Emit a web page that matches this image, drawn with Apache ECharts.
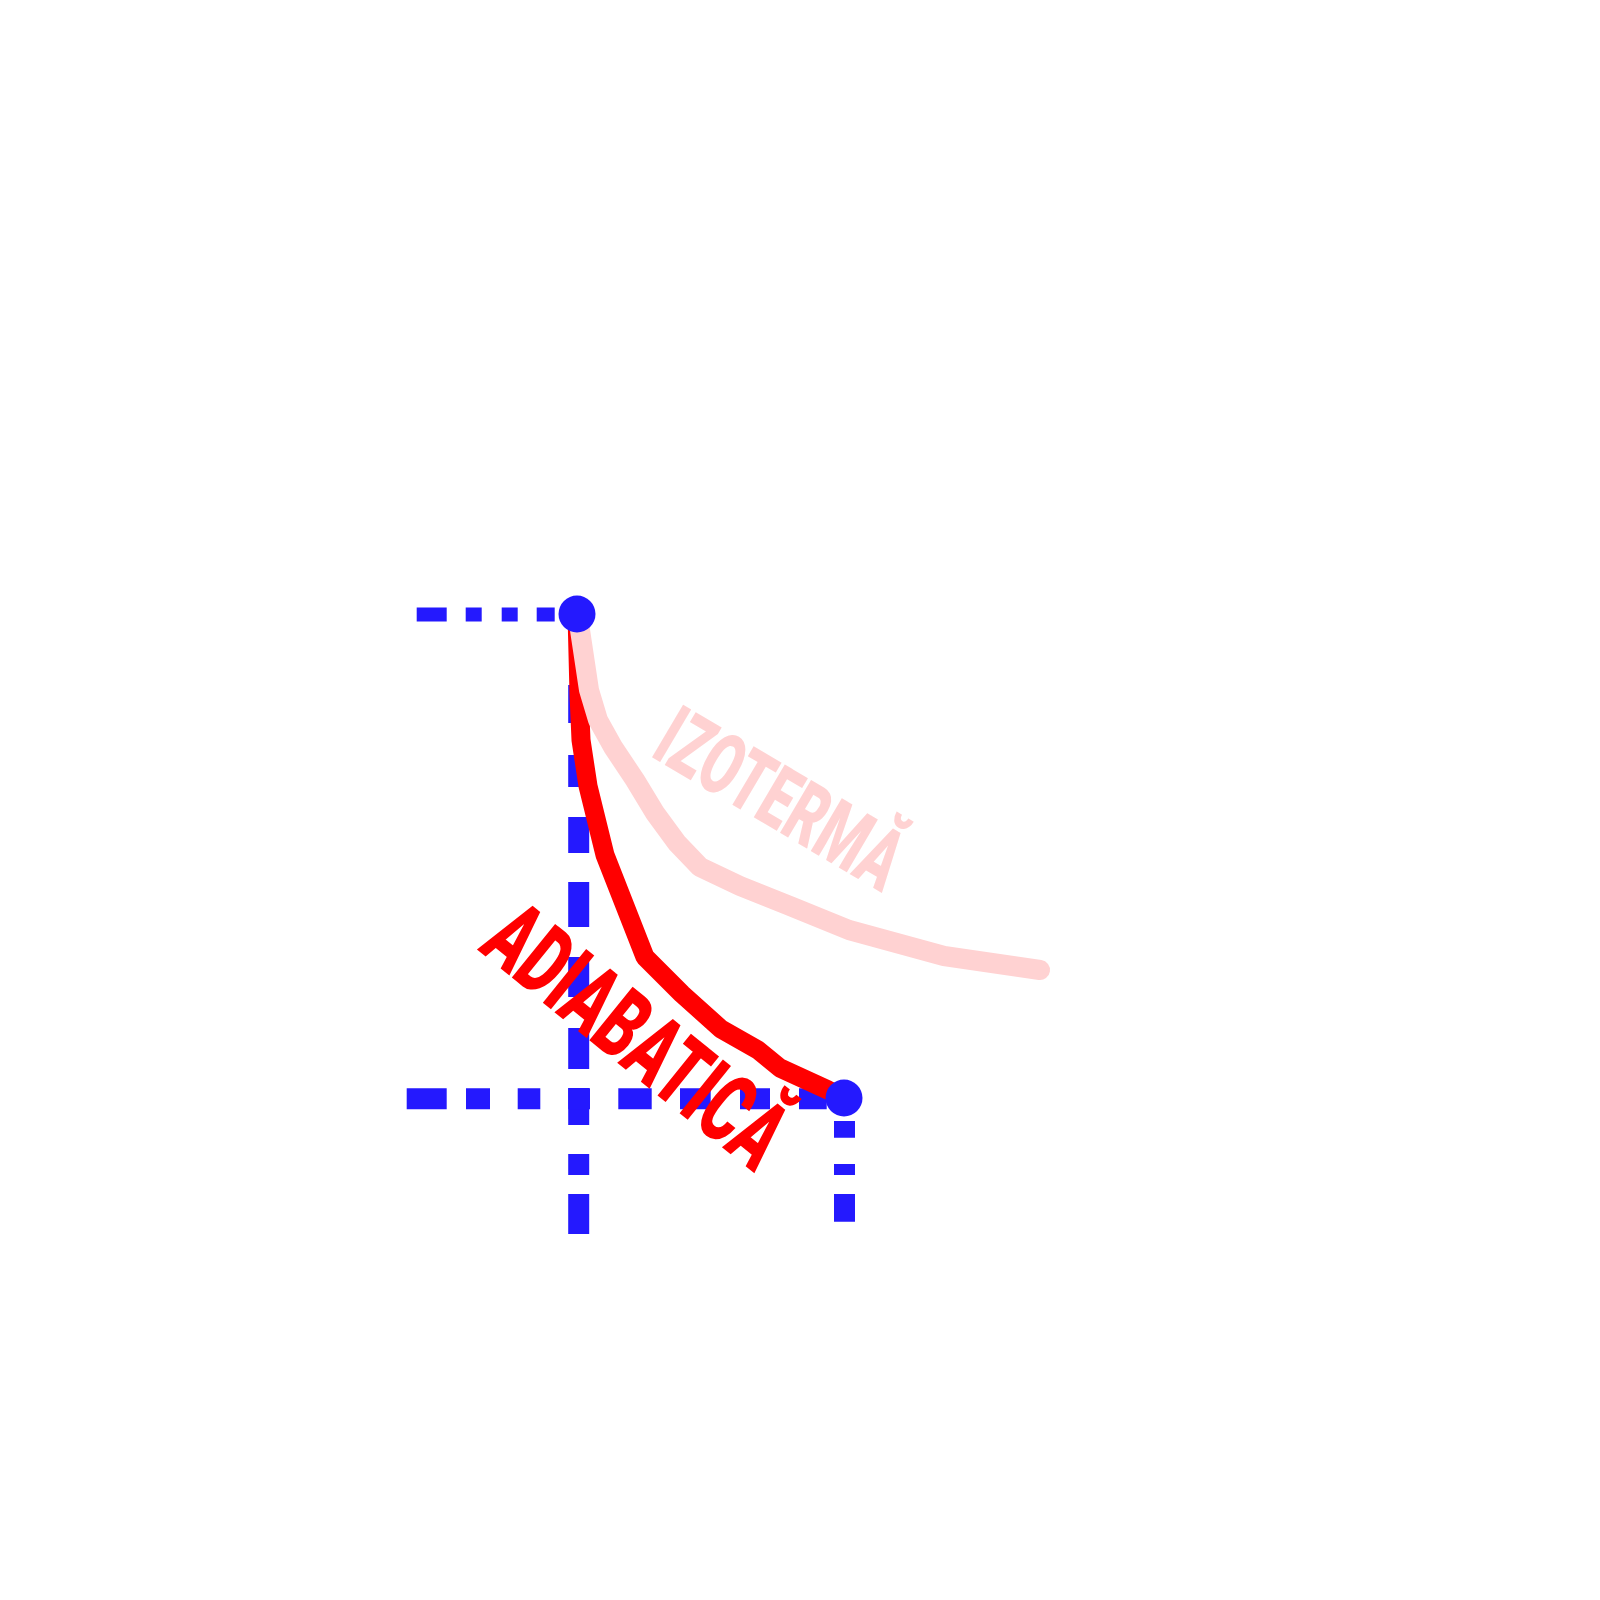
<!DOCTYPE html>
<html><head><meta charset="utf-8">
<script src="https://cdn.jsdelivr.net/npm/echarts@6/dist/echarts.min.js"></script>
<style>html,body{margin:0;padding:0;background:#fff}#chart{width:1600px;height:1600px}</style>
</head><body><div id="chart"></div>
<script>
// p–V diagram (arbitrary units): V on x, p on y
const adiabatV = [5.77, 5.79, 5.81, 5.88, 6.05, 6.45, 6.82, 7.21, 7.58, 7.80, 8.28, 8.44];
const adiabatP = [9.86, 9.06, 8.60, 8.14, 7.45, 6.43, 6.06, 5.71, 5.50, 5.32, 5.10, 5.02];
const isothermV = [5.77, 5.80, 5.89, 5.98, 6.13, 6.35, 6.55, 6.77, 7.00, 7.40, 7.90, 8.49, 9.44, 10.40];
const isothermP = [9.86, 9.70, 9.10, 8.80, 8.53, 8.20, 7.87, 7.57, 7.33, 7.14, 6.94, 6.70, 6.44, 6.30];
const stateV = [5.77, 8.44];
const stateP = [9.86, 5.02];
// dashed guide lines to the state points
const guide1V = [4.167, 5.77], guide1P = [9.855, 9.855];
const guide2V = [5.787, 5.787], guide2P = [9.86, 3.66];
const guide3V = [4.067, 8.44], guide3P = [5.013, 5.013];
const guide4V = [8.445, 8.445], guide4P = [5.02, 3.782];
// curve labels
const labelText = ['IZOTERMĂ', 'ADIABATICĂ'];
const labelV = [7.763, 6.308];
const labelP = [7.944, 5.574];

const BLUE = '#2419fe', RED = '#ff0000', PINK = '#ffd2d2';
const zip = (a, b) => a.map((v, i) => [v, b[i]]);

const labelStyles = [
  { color: PINK, size: 86, angle: -30.5, sx: 0.634 },
  { color: RED, size: 97, angle: -38.9, sx: 0.627 }
];

function guide(v, p, width, dash) {
  return {
    type: 'line', data: zip(v, p), symbol: 'none', silent: true, z: 1,
    lineStyle: { color: BLUE, width: width, type: dash, cap: 'butt', opacity: 1 }
  };
}

const chart = echarts.init(document.getElementById('chart'), null, { renderer: 'canvas' });
chart.setOption({
  backgroundColor: '#ffffff',
  animation: false,
  grid: { left: 0, right: 0, top: 0, bottom: 0 },
  xAxis: { type: 'value', min: 0, max: 16, show: false },
  yAxis: { type: 'value', min: 0, max: 16, show: false },
  series: [
    guide(guide1V, guide1P, 14, [30, 19, 16, 20, 16, 19, 18, 30]),
    guide(guide2V, guide2P, 21, [0, 71, 38, 32, 32, 30, 36, 29, 45, 30, 40, 31, 41, 19, 37, 29, 21, 19, 40]),
    guide(guide3V, guide3P, 21, [40, 19.3, 24, 27.7, 22.6, 28, 21.7, 28.3, 33.4, 28.3, 30.7, 29.3, 30, 29, 27.7, 40]),
    guide(guide4V, guide4P, 21, [0, 23, 16.7, 26.3, 11, 19, 28]),
    {
      type: 'line', data: zip(adiabatV, adiabatP), symbol: 'none', silent: true, z: 2,
      lineStyle: { color: RED, width: 19, cap: 'round', opacity: 1 }
    },
    {
      type: 'line', data: zip(isothermV, isothermP), symbol: 'none', silent: true, z: 3,
      lineStyle: { color: PINK, width: 20, cap: 'round', opacity: 1 }
    },
    {
      type: 'custom', z: 4, silent: true,
      data: labelText.map((t, i) => [labelV[i], labelP[i], i]),
      renderItem: function (params, api) {
        const pt = api.coord([api.value(0), api.value(1)]);
        const i = api.value(2);
        const s = labelStyles[i];
        const font = '900 ' + s.size + 'px Roboto, sans-serif';
        return {
          type: 'group', x: pt[0], y: pt[1],
          rotation: s.angle * Math.PI / 180,
          children: [{
            type: 'text', x: 0, y: 0, scaleX: s.sx, scaleY: 1,
            style: {
              text: labelText[i],
              fill: s.color,
              font: font,
              align: 'center', verticalAlign: 'middle',
              textAlign: 'center', textVerticalAlign: 'middle'
            }
          }]
        };
      }
    },
    {
      type: 'scatter', data: zip(stateV, stateP), symbol: 'circle', symbolSize: 37, z: 5, silent: true,
      itemStyle: { color: BLUE, opacity: 1 }
    }
  ]
});
</script></body></html>
